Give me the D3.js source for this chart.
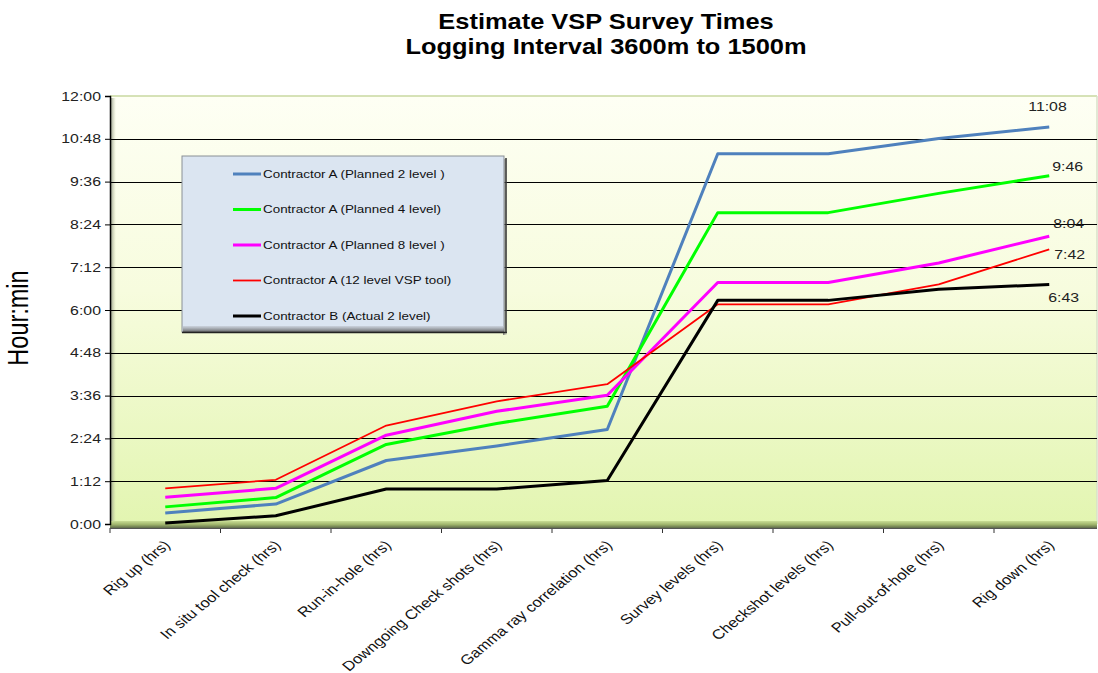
<!DOCTYPE html>
<html>
<head>
<meta charset="utf-8">
<script src="https://cdn.jsdelivr.net/npm/d3@7"></script>
<style>
  html, body { margin: 0; padding: 0; background: #ffffff; }
  svg { display: block; font-family: "Liberation Sans", Arial, sans-serif; }
</style>
</head>
<body>
<svg id="chart" width="1098" height="673"></svg>
<script>
// Survey steps along the x axis
const categories = [
  "Rig up (hrs)", "In situ tool check (hrs)", "Run-in-hole (hrs)",
  "Downgoing Check shots (hrs)", "Gamma ray correlation (hrs)",
  "Survey levels (hrs)", "Checkshot levels (hrs)", "Pull-out-of-hole (hrs)",
  "Rig down (hrs)"
];

// Cumulative elapsed time, in hours
const plannedTwoLevel   = [0.31, 0.56, 1.78, 2.19, 2.65, 10.38, 10.38, 10.81, 11.133];
const plannedFourLevel  = [0.48, 0.74, 2.23, 2.82, 3.30, 8.73, 8.73, 9.27, 9.767];
const plannedEightLevel = [0.75, 1.00, 2.49, 3.16, 3.61, 6.77, 6.77, 7.32, 8.067];
const twelveLevelTool   = [1.00, 1.24, 2.76, 3.44, 3.92, 6.16, 6.16, 6.72, 7.70];
const actualTwoLevel    = [0.03, 0.23, 0.98, 0.98, 1.22, 6.27, 6.27, 6.58, 6.717];

const seriesNames = [
  "Contractor A (Planned 2 level )",
  "Contractor A (Planned 4 level)",
  "Contractor A (Planned 8 level )",
  "Contractor A (12 level VSP  tool)",
  "Contractor B (Actual 2 level)"
];

// Y ticks every 1h12m
const yTicks = [0, 1.2, 2.4, 3.6, 4.8, 6.0, 7.2, 8.4, 9.6, 10.8, 12];

const titleLines = ["Estimate VSP Survey Times", "Logging Interval 3600m to 1500m"];

// Styling per series (colour, width, end-label offset)
const seriesStyle = [
  { color: "#4f81bd", width: 3,   dx: -21, dy: -20 },
  { color: "#00ff00", width: 3,   dx: 3,   dy: -9 },
  { color: "#ff00ff", width: 3,   dx: 4,   dy: -13 },
  { color: "#ff0000", width: 1.8, dx: 5,   dy: 5 },
  { color: "#000000", width: 3,   dx: -1,  dy: 13 }
];

const seriesValues = [plannedTwoLevel, plannedFourLevel, plannedEightLevel, twelveLevelTool, actualTwoLevel];
const series = seriesNames.map((name, i) => ({ name, values: seriesValues[i], style: seriesStyle[i] }));

// Text in this chart is set slightly wide
const SX = 1.22;

const fmtHM = h => {
  const total = Math.round(h * 60);
  const hh = Math.floor(total / 60), mm = total % 60;
  return hh + ":" + String(mm).padStart(2, "0");
};

const svg = d3.select("#chart");
const plot = { left: 110, right: 1097, top: 96, bottom: 524 };

const x = d3.scaleBand().domain(categories).range([plot.left, plot.left + 9 * 110.5]).padding(0);
const y = d3.scaleLinear().domain([0, 12]).range([plot.bottom, plot.top]);

const defs = svg.append("defs");
const bg = defs.append("linearGradient").attr("id", "plotBg").attr("x1", 0).attr("y1", 0).attr("x2", 0).attr("y2", 1);
bg.append("stop").attr("offset", "0%").attr("stop-color", "#fefff4");
bg.append("stop").attr("offset", "45%").attr("stop-color", "#f7fcde");
bg.append("stop").attr("offset", "100%").attr("stop-color", "#e2f5b0");

const floor = defs.append("linearGradient").attr("id", "floorGrad").attr("x1", 0).attr("y1", 0).attr("x2", 0).attr("y2", 1);
floor.append("stop").attr("offset", "0%").attr("stop-color", "#c9dd95");
floor.append("stop").attr("offset", "50%").attr("stop-color", "#9fb46c");
floor.append("stop").attr("offset", "100%").attr("stop-color", "#5f6b4a");

const wallShade = defs.append("linearGradient").attr("id", "wallShade").attr("x1", 0).attr("y1", 0).attr("x2", 1).attr("y2", 0);
wallShade.append("stop").attr("offset", "0%").attr("stop-color", "#8a9080").attr("stop-opacity", 0.8);
wallShade.append("stop").attr("offset", "100%").attr("stop-color", "#c0c8a0").attr("stop-opacity", 0);

const legShadowR = defs.append("linearGradient").attr("id", "legShadowR").attr("x1", 0).attr("y1", 0).attr("x2", 1).attr("y2", 0);
legShadowR.append("stop").attr("offset", "0%").attr("stop-color", "#666").attr("stop-opacity", 0.9);
legShadowR.append("stop").attr("offset", "100%").attr("stop-color", "#999").attr("stop-opacity", 0.1);
const legShadowB = defs.append("linearGradient").attr("id", "legShadowB").attr("x1", 0).attr("y1", 0).attr("x2", 0).attr("y2", 1);
legShadowB.append("stop").attr("offset", "0%").attr("stop-color", "#c0c6cf").attr("stop-opacity", 0.6);
legShadowB.append("stop").attr("offset", "100%").attr("stop-color", "#555").attr("stop-opacity", 0.9);

// Plot background
svg.append("rect")
  .attr("x", plot.left).attr("y", plot.top)
  .attr("width", plot.right - plot.left).attr("height", plot.bottom - plot.top + 4)
  .attr("fill", "url(#plotBg)");
svg.append("line")
  .attr("x1", plot.left).attr("x2", plot.right).attr("y1", plot.top).attr("y2", plot.top)
  .attr("stroke", "#c8d8a0").attr("stroke-width", 1.5);
svg.append("line")
  .attr("x1", plot.right).attr("x2", plot.right).attr("y1", plot.top).attr("y2", plot.bottom)
  .attr("stroke", "#d8e0c8").attr("stroke-width", 1.5);
svg.append("rect")
  .attr("x", plot.left + 1).attr("y", plot.top + 2)
  .attr("width", 5).attr("height", plot.bottom - plot.top)
  .attr("fill", "url(#wallShade)");

// Gridlines
svg.append("g").selectAll("line").data(yTicks.slice(1, -1)).join("line")
  .attr("x1", plot.left).attr("x2", plot.right)
  .attr("y1", d => Math.round(y(d)) + 0.5).attr("y2", d => Math.round(y(d)) + 0.5)
  .attr("stroke", "#000").attr("stroke-width", 1);

// Floor bevel
svg.append("rect")
  .attr("x", plot.left).attr("y", plot.bottom - 3)
  .attr("width", plot.right - plot.left).attr("height", 7)
  .attr("fill", "url(#floorGrad)");

// Y axis
const yAxis = d3.axisLeft(y).tickValues(yTicks).tickFormat(fmtHM).tickSize(5).tickPadding(5);
const gy = svg.append("g").attr("transform", `translate(${plot.left},0)`).call(yAxis);
gy.select(".domain").attr("stroke", "#000").attr("stroke-width", 1.5);
gy.selectAll(".tick line").attr("stroke", "#000");
gy.selectAll(".tick text")
  .attr("x", null)
  .attr("transform", `translate(-9,0) scale(${SX},1)`)
  .attr("font-size", "13px")
  .attr("fill", "#222").attr("font-family", "'Liberation Sans', Arial, sans-serif");

// X axis (category boundaries as ticks)
const bounds = d3.range(categories.length + 1).map(i => plot.left + i * x.bandwidth()).filter(v => v <= plot.right);
svg.append("g").selectAll("line").data(bounds).join("line")
  .attr("x1", d => d).attr("x2", d => d)
  .attr("y1", plot.bottom + 4).attr("y2", plot.bottom + 9)
  .attr("stroke", "#333").attr("stroke-width", 1);
svg.append("line")
  .attr("x1", plot.left).attr("x2", plot.right)
  .attr("y1", plot.bottom + 4.5).attr("y2", plot.bottom + 4.5)
  .attr("stroke", "#555").attr("stroke-width", 1);

svg.append("g").selectAll("text").data(categories).join("text")
  .attr("transform", d => `translate(${x(d) + x.bandwidth() / 2 + 6},${plot.bottom + 22}) scale(${SX},1) rotate(-45)`)
  .attr("text-anchor", "end")
  .attr("font-size", "13.6px")
  .attr("fill", "#111")
  .text(d => d);

// Series lines
const line = d3.line()
  .x((d, i) => x(categories[i]) + x.bandwidth() / 2)
  .y(d => y(d));

const clip = defs.append("clipPath").attr("id", "plotClip");
clip.append("rect").attr("x", plot.left).attr("y", plot.top - 10)
  .attr("width", plot.right - plot.left).attr("height", plot.bottom - plot.top + 20);

const gLines = svg.append("g").attr("clip-path", "url(#plotClip)");
gLines.selectAll("path").data(series).join("path")
  .attr("d", d => line(d.values))
  .attr("fill", "none")
  .attr("stroke", d => d.style.color)
  .attr("stroke-width", d => d.style.width)
  .attr("stroke-linejoin", "round");

// End-of-line time labels
svg.append("g").selectAll("text").data(series).join("text")
  .attr("transform", d => {
    const px = x(categories[categories.length - 1]) + x.bandwidth() / 2 + d.style.dx;
    const py = y(d.values[d.values.length - 1]) + d.style.dy;
    return `translate(${px},${py}) scale(${SX},1)`;
  })
  .attr("dy", "0.35em")
  .attr("font-size", "13px")
  .attr("fill", "#222")
  .text(d => fmtHM(d.values[d.values.length - 1]));

// Legend
const leg = { x: 182, y: 156, w: 322, h: 176 };
const gLeg = svg.append("g");
gLeg.append("rect").attr("x", leg.x + leg.w - 1).attr("y", leg.y + 3).attr("width", 4).attr("height", leg.h).attr("fill", "url(#legShadowR)");
gLeg.append("rect").attr("x", leg.x).attr("y", leg.y).attr("width", leg.w).attr("height", leg.h)
  .attr("fill", "#dbe5f1").attr("stroke", "#8a8f96").attr("stroke-width", 1);
gLeg.append("rect").attr("x", leg.x + 1).attr("y", leg.y + leg.h - 6).attr("width", leg.w - 1).attr("height", 6).attr("fill", "url(#legShadowB)");
gLeg.append("line").attr("x1", leg.x).attr("x2", leg.x + leg.w + 3).attr("y1", leg.y + leg.h + 0.5).attr("y2", leg.y + leg.h + 0.5)
  .attr("stroke", "#222").attr("stroke-width", 1.5);
gLeg.append("line").attr("x1", leg.x + leg.w + 2).attr("x2", leg.x + leg.w + 2).attr("y1", leg.y + 2).attr("y2", leg.y + leg.h + 1)
  .attr("stroke", "#333").attr("stroke-width", 1.5);

const rowY = i => leg.y + 18 + i * 35.5;
const items = gLeg.selectAll("g.item").data(series).join("g").attr("class", "item");
items.append("line")
  .attr("x1", leg.x + 51).attr("x2", leg.x + 79)
  .attr("y1", (d, i) => rowY(i)).attr("y2", (d, i) => rowY(i))
  .attr("stroke", d => d.style.color).attr("stroke-width", d => d.style.width);
items.append("text")
  .attr("transform", (d, i) => `translate(${leg.x + 81},${rowY(i)}) scale(${SX},1)`)
  .attr("dy", "0.35em")
  .attr("font-size", "11px").attr("fill", "#111")
  .text(d => d.name);

// Axis title
svg.append("text")
  .attr("transform", `translate(28,318) scale(${SX},1) rotate(-90)`)
  .attr("text-anchor", "middle")
  .attr("font-size", "23.5px").attr("fill", "#000")
  .text("Hour:min");

// Chart title
svg.append("g").selectAll("text").data(titleLines).join("text")
  .attr("transform", (d, i) => `translate(606,${29 + i * 25.3}) scale(1.13,1)`)
  .attr("text-anchor", "middle")
  .attr("font-size", "22.5px").attr("font-weight", "bold")
  .attr("fill", "#000")
  .text(d => d);
</script>
</body>
</html>
